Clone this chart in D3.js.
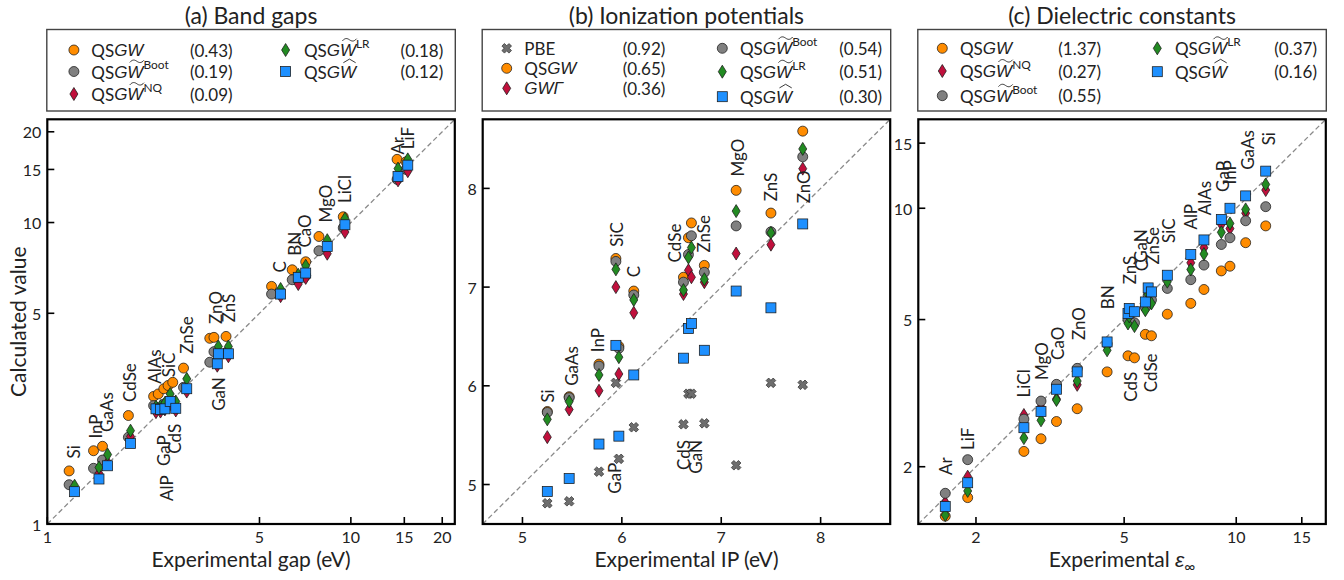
<!DOCTYPE html>
<html><head><meta charset="utf-8">
<script src="https://cdn.jsdelivr.net/npm/d3@7"></script>
<style>body{margin:0;background:#fff}svg{display:block;font-family:Lato,"DejaVu Sans",sans-serif}.it{font-family:"Liberation Sans",sans-serif;font-style:italic}</style>
</head><body><svg id="c" width="1344" height="580"></svg>
<script>
// ---------- (a) Band gaps ----------
const matA = ["Si","InP","GaAs","CdSe","AlAs","GaP","SiC","AlP","CdS","ZnSe","GaN","ZnO","ZnS","C","BN","CaO","MgO","LiCl","Ar","LiF"];
const expCircA = [1.18,1.42,1.52,1.85,2.24,2.32,2.42,2.50,2.59,2.81,3.43,3.54,3.88,5.48,6.41,7.10,7.85,9.44,14.2,15.2];
const expA     = [1.23,1.48,1.58,1.88,2.28,2.36,2.44,2.54,2.65,2.88,3.63,3.66,3.95,5.87,6.71,7.10,8.36,9.56,14.3,15.4];
const qsgwA = [1.50,1.75,1.81,2.29,2.65,2.70,2.81,2.88,2.95,3.29,4.13,4.16,4.19,6.14,6.97,7.41,8.99,10.45,16.2,15.9];
const bootA = [1.35,1.53,1.63,1.94,2.47,2.42,2.50,2.55,2.50,2.84,3.44,3.73,3.70,5.79,6.46,6.66,8.06,9.60,13.9,15.0];
const nqA   = [1.30,1.47,1.60,1.95,2.35,2.36,2.40,2.50,2.38,2.75,3.35,3.55,3.60,5.70,6.25,6.55,7.88,9.30,13.8,14.8];
const lrA   = [1.34,1.54,1.70,2.04,2.45,2.46,2.52,2.70,2.55,3.03,3.50,3.88,3.88,6.02,6.71,7.19,8.74,10.3,15.1,16.2];
const hatA  = [1.28,1.41,1.56,1.85,2.41,2.40,2.41,2.55,2.42,2.81,3.40,3.67,3.67,5.79,6.58,6.80,8.33,9.83,14.2,15.5];
const labXA = [1.22,1.44,1.57,1.87,2.26,2.41,2.50,2.47,2.63,2.88,3.66,3.57,3.95,5.84,6.54,7.06,8.28,9.56,14.2,15.4];
const labYA = [1.65,1.92,2.02,2.54,2.92,1.97,3.07,1.45,2.15,3.67,3.07,4.61,4.67,6.83,7.76,8.26,10.0,11.6,16.8,17.5];
const labDA = [1,1,1,1,1,-1,1,-1,-1,1,-1,1,1,1,1,1,1,1,1,1];
const maeA = [0.43,0.19,0.09,0.18,0.12];
const ticksA = [1,5,10,15,20];

// ---------- (b) Ionization potentials ----------
const matB = ["Si","GaAs","InP","GaP","SiC","C","CdSe","CdS","GaN","ZnSe","MgO","ZnS","ZnO"];
const expB  = [5.25,5.47,5.77,5.97,5.94,6.12,6.62,6.67,6.70,6.83,7.15,7.50,7.82];
const pbeB  = [4.81,4.83,5.13,5.26,6.03,5.58,5.61,5.92,5.92,5.62,5.195,6.03,6.01];
const qsgwB = [5.74,5.89,6.22,6.40,7.29,6.96,7.10,7.50,7.65,7.22,7.98,7.75,8.58];
const gwgB  = [5.48,5.76,5.95,6.12,7.00,6.74,6.93,7.17,7.10,7.05,7.34,7.43,8.20];
const bootB = [5.73,5.88,6.20,6.38,7.26,6.92,7.05,7.33,7.52,7.15,7.62,7.56,8.32];
const lrB   = [5.66,5.84,6.11,6.29,7.18,6.87,6.97,7.30,7.40,7.08,7.77,7.55,8.40];
const hatB  = [4.93,5.06,5.41,5.49,6.41,6.11,6.28,6.58,6.63,6.36,6.96,6.79,7.64];
const labXB = [5.25,5.49,5.76,5.93,5.95,6.12,6.53,6.62,6.74,6.82,7.16,7.50,7.83];
const labYB = [5.83,6.00,6.34,5.22,7.41,7.10,7.25,5.45,5.45,7.35,8.12,7.87,7.85];
const labDB = [1,1,1,-1,1,1,1,-1,-1,1,1,1,1];
const maeB = [0.92,0.65,0.36,0.54,0.51,0.30];
const ticksB = [5,6,7,8];

// ---------- (c) Dielectric constants ----------
const matC = ["Ar","LiF","LiCl","MgO","CaO","ZnO","BN","ZnS","GaN","CdS","ZnSe","C","CdSe","SiC","AlP","AlAs","GaP","InP","GaAs","Si"];
const expC  = [1.654,1.90,2.69,2.99,3.29,3.74,4.50,5.12,5.16,5.33,5.70,5.80,5.92,6.53,7.55,8.19,9.12,9.62,10.6,12.0];
const qsgwC = [1.47,1.65,2.20,2.38,2.65,2.87,3.61,3.99,5.05,3.94,4.56,5.50,4.52,5.17,5.53,6.03,6.77,6.97,8.07,8.96];
const nqC   = [1.60,1.88,2.76,2.90,3.05,3.33,4.25,4.95,5.20,4.85,5.35,5.75,5.60,6.45,7.12,7.82,9.05,8.81,9.70,11.2];
const bootC = [1.695,2.09,2.69,3.01,3.34,3.69,4.30,5.00,5.25,4.90,5.40,5.80,5.65,6.07,6.41,7.02,7.98,8.32,9.25,10.1];
const lrC   = [1.48,1.72,2.39,2.67,3.03,3.41,4.13,4.88,5.10,4.80,5.30,5.85,5.53,6.33,6.83,7.52,8.61,9.10,9.93,11.6];
const hatC  = [1.56,1.81,2.55,2.82,3.24,3.61,4.35,5.19,5.36,5.25,5.58,6.09,5.94,6.59,7.50,8.21,9.33,10.0,10.8,12.6];
const labXC = [1.66,1.90,2.69,3.00,3.31,3.77,4.52,5.16,5.52,5.20,5.94,5.55,5.87,6.58,7.53,8.22,9.17,9.60,10.7,12.2];
const labYC = [1.90,2.22,3.08,3.43,3.89,4.40,5.33,6.23,7.12,3.61,7.05,6.75,4.05,8.06,8.76,9.58,11.07,11.6,12.7,14.8];
const labDC = [1,1,1,1,1,1,1,1,1,-1,1,1,-1,1,1,1,1,1,1,1];
const maeC = [1.37,0.27,0.55,0.37,0.16];
const ticksC = [2,5,10,15];

// ---------- styles ----------
const COL = {qsgw:"#ff8c00", boot:"#808080", nq:"#c0103c", lr:"#228b22", hat:"#1e90ff", pbe:"#6e6e6e"};
const svg = d3.select("#c");
const TOP = 119.3, BOT = 524, PW = 407.5;
const LEFTS = [47.3, 482.7, 918.3];
const TXT = "#222";

function marker(g, shape, x, y, color){
  const ec = "#1a1a1a", ew = 0.75;
  if(shape==="circle") g.append("circle").attr("cx",x).attr("cy",y).attr("r",5).attr("fill",color).attr("stroke",ec).attr("stroke-width",ew);
  else if(shape==="square") g.append("rect").attr("x",x-5).attr("y",y-5).attr("width",10).attr("height",10).attr("fill",color).attr("stroke",ec).attr("stroke-width",ew);
  else if(shape==="diamond") g.append("path").attr("d",`M${x},${y-6.5}L${x+4},${y}L${x},${y+6.5}L${x-4},${y}Z`).attr("fill",color).attr("stroke",ec).attr("stroke-width",ew);
  else if(shape==="x"){
    const a=5,t=1.8, pts=[[-t,-a],[t,-a],[t,-t],[a,-t],[a,t],[t,t],[t,a],[-t,a],[-t,t],[-a,t],[-a,-t],[-t,-t]];
    const c=Math.SQRT1_2;
    const d="M"+pts.map(p=>[(x+(p[0]-p[1])*c).toFixed(2),(y+(p[0]+p[1])*c).toFixed(2)].join(",")).join("L")+"Z";
    g.append("path").attr("d",d).attr("fill",color).attr("stroke","#333").attr("stroke-width",ew);
  }
}

function mathLabel(g, x, y, kind, fs){
  const t = g.append("text").attr("x",x).attr("y",y).attr("font-size",fs).attr("dominant-baseline","central").attr("fill",TXT);
  if(kind==="pbe"){ t.text("PBE"); return; }
  if(kind==="gwg"){ t.append("tspan").attr("class","it").text("GWΓ"); return; }
  t.append("tspan").text("QS");
  t.append("tspan").attr("class","it").text("GW");
  const sup = {boot:"Boot", nq:"NQ", lr:"LR"}[kind];
  if(sup) t.append("tspan").attr("font-size",fs*0.7).attr("dy",-fs*0.42).text(sup);
  if(kind==="qsgw") return;
  let xs, xe;
  try { xs = t.node().getStartPositionOfChar(3).x; xe = t.node().getEndPositionOfChar(3).x; }
  catch(err){ xs = x+fs*1.9; xe = xs+fs*0.9; }
  const x0 = xs+2.4, x1 = xe+0.6, yy = y - fs*0.6, w = x1-x0;
  let d;
  if(kind==="hat") d = `M${x0+1},${yy+1.4}L${x0+w/2},${yy-2.2}L${x1-1},${yy+1.4}`;
  else d = `M${x0},${yy+1.1}C${x0+w*0.2},${yy-2.2} ${x0+w*0.35},${yy-1.5} ${x0+w/2},${yy}S${x0+w*0.8},${yy+2.2} ${x1},${yy-1.1}`;
  g.append("path").attr("d",d).attr("fill","none").attr("stroke",TXT).attr("stroke-width",0.9);
}

const panels = [
  { title:"(a) Band gaps", xlabel:"gap", log:true, domain:[1,22], ticks:ticksA,
    mats:matA, labX:labXA, labY:labYA, labD:labDA,
    series:[
      {k:"qsgw", x:expCircA, y:qsgwA, shape:"circle"},
      {k:"boot", x:expCircA, y:bootA, shape:"circle"},
      {k:"nq",   x:expA, y:nqA, shape:"diamond"},
      {k:"lr",   x:expA, y:lrA, shape:"diamond"},
      {k:"hat",  x:expA, y:hatA, shape:"square"}],
    mae:maeA, legCols:[[0,1,2],[3,4]], legRows:[[50,71.5,94],[50,71.5]], legX:[[26.6,44,142.6],[238.3,256.6,353.3]] },
  { title:"(b) Ionization potentials", xlabel:"ip", log:false, domain:[4.6,8.7], ticks:ticksB,
    mats:matB, labX:labXB, labY:labYB, labD:labDB,
    series:[
      {k:"pbe",  x:expB, y:pbeB, shape:"x"},
      {k:"qsgw", x:expB, y:qsgwB, shape:"circle"},
      {k:"gwg",  x:expB, y:gwgB, shape:"diamond", color:COL.nq},
      {k:"boot", x:expB, y:bootB, shape:"circle"},
      {k:"lr",   x:expB, y:lrB, shape:"diamond"},
      {k:"hat",  x:expB, y:hatB, shape:"square"}],
    mae:maeB, legCols:[[0,1,2],[3,4,5]], legRows:[[48.3,68.3,88.3],[48.3,71.7,96.7]], legX:[[24,41.6,140],[239.6,257.3,356.6]] },
  { title:"(c) Dielectric constants", xlabel:"eps", log:true, domain:[1.4,17.4], ticks:ticksC,
    mats:matC, labX:labXC, labY:labYC, labD:labDC,
    series:[
      {k:"qsgw", x:expC, y:qsgwC, shape:"circle"},
      {k:"nq",   x:expC, y:nqC, shape:"diamond"},
      {k:"boot", x:expC, y:bootC, shape:"circle"},
      {k:"lr",   x:expC, y:lrC, shape:"diamond"},
      {k:"hat",  x:expC, y:hatC, shape:"square"}],
    mae:maeC, legCols:[[0,1,2],[3,4]], legRows:[[48.3,71,95.7],[48.3,71.7]], legX:[[24,41.7,140],[239,256.7,356]] }
];

panels.forEach((P, pi) => {
  const L = LEFTS[pi], R = L + PW;
  const mk = P.log ? d3.scaleLog : d3.scaleLinear;
  const x = mk().domain(P.domain).range([L, R]);
  const y = mk().domain(P.domain).range([BOT, TOP]);
  const g = svg.append("g");

  g.append("text").attr("x",(L+R)/2).attr("y",24).attr("text-anchor","middle").attr("font-size",23).attr("fill",TXT).text(P.title);

  g.append("rect").attr("x",L-0.5).attr("y",29.5).attr("width",PW+1).attr("height",81.5)
    .attr("fill","#fff").attr("stroke","#444").attr("stroke-width",1.4);
  P.legCols.forEach((col, ci) => {
    col.forEach((si, ri) => {
      const s = P.series[si], ry = P.legRows[ci][ri], lx = P.legX[ci];
      marker(g, s.shape, L+lx[0], ry, s.color || COL[s.k]);
      mathLabel(g, L+lx[1], ry, s.k, 17);
      g.append("text").attr("x",L+lx[2]).attr("y",ry).attr("dominant-baseline","central").attr("font-size",17).attr("fill",TXT)
        .text("(" + P.mae[si].toFixed(2) + ")");
    });
  });

  g.append("line").attr("x1",x(P.domain[0])).attr("y1",y(P.domain[0])).attr("x2",x(P.domain[1])).attr("y2",y(P.domain[1]))
    .attr("stroke","#8a8a8a").attr("stroke-width",1.3).attr("stroke-dasharray","5,3");

  P.series.forEach(s => {
    s.y.forEach((v, i) => marker(g, s.shape, x(s.x[i]), y(v), s.color || COL[s.k]));
  });

  P.mats.forEach((m, i) => {
    g.append("text").attr("transform",`translate(${x(P.labX[i])},${y(P.labY[i])}) rotate(-90)`)
      .attr("text-anchor", P.labD[i] > 0 ? "start" : "end").attr("dominant-baseline","central")
      .attr("font-size",17).attr("fill",TXT).text(m);
  });

  g.append("rect").attr("x",L).attr("y",TOP).attr("width",PW).attr("height",BOT-TOP)
    .attr("fill","none").attr("stroke","#000").attr("stroke-width",2.2);

  P.ticks.forEach(t => {
    const tx = x(t), ty = y(t);
    g.append("line").attr("x1",tx).attr("x2",tx).attr("y1",BOT).attr("y2",BOT-7).attr("stroke","#000").attr("stroke-width",1.6);
    g.append("line").attr("x1",L).attr("x2",L+7).attr("y1",ty).attr("y2",ty).attr("stroke","#000").attr("stroke-width",1.6);
    g.append("text").attr("x",tx).attr("y",543).attr("text-anchor","middle").attr("font-size",16).attr("fill",TXT).text(t);
    g.append("text").attr("x",L-6).attr("y",ty).attr("text-anchor","end").attr("dominant-baseline","central").attr("font-size",16).attr("fill",TXT).text(t);
  });

  const xl = g.append("text").attr("x",(L+R)/2).attr("y",567).attr("text-anchor","middle").attr("font-size",21).attr("fill",TXT);
  if(P.xlabel==="gap") xl.text("Experimental gap (eV)");
  else if(P.xlabel==="ip") xl.text("Experimental IP (eV)");
  else { xl.append("tspan").text("Experimental "); xl.append("tspan").attr("class","it").text("ε");
         xl.append("tspan").attr("font-size",15).attr("dy",5).text("∞"); }
});

svg.append("text").attr("transform","translate(17,321.7) rotate(-90)").attr("text-anchor","middle")
  .attr("dominant-baseline","central").attr("font-size",21).attr("fill",TXT).text("Calculated value");
</script></body></html>
